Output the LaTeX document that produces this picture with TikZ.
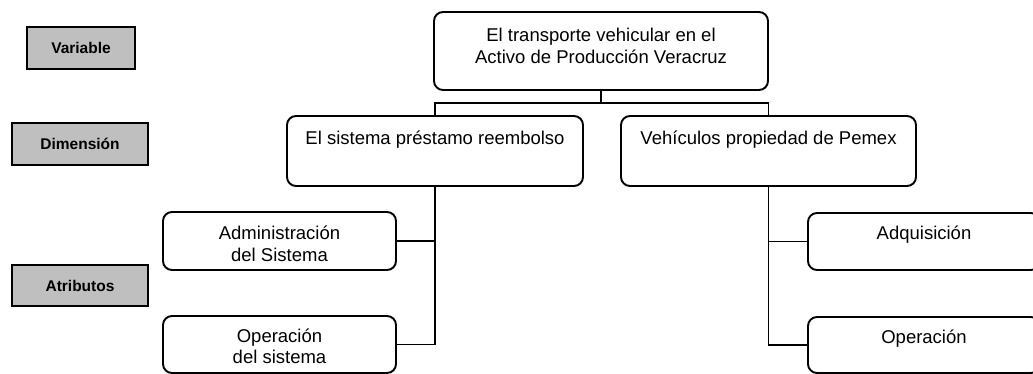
\documentclass[tikz,border=0pt]{standalone}
\usepackage{fontspec}
\setmainfont{Liberation Sans}
\begin{document}
\begin{tikzpicture}[x=1pt,y=-1pt,
  box/.style={draw, line width=1.9pt, rounded corners=9pt, inner sep=0pt,
    font=\fontsize{18.5}{21.5}\selectfont},
  lbl/.style={draw, line width=1.9pt, fill=gray!50, inner sep=0pt,
    font=\bfseries\fontsize{15.5}{18}\selectfont},
  conn/.style={line width=1.9pt, line join=miter}]
\clip (0,0) rectangle (1033,374);
\fill[white] (0,0) rectangle (1033,374);
% side labels
\node[lbl, minimum width=108pt, minimum height=42pt] (var) at (81,48) {Variable};
\node[lbl, minimum width=136pt, minimum height=42pt] (dim) at (80,144) {Dimensión};
\node[lbl, minimum width=136pt, minimum height=41pt] (atr) at (80,285.5) {Atributos};
% boxes
\node[box, minimum width=334pt, text height=30pt, text depth=48pt] (top) at (601,51)
  {\begin{tabular}[t]{@{}c@{}}El transporte vehicular en el\\Activo de Producción Veracruz\end{tabular}};
\node[box, minimum width=296pt, text height=29pt, text depth=41pt] (dimL) at (435,151)
  {El sistema préstamo reembolso};
\node[box, minimum width=295pt, text height=29pt, text depth=41pt] (dimR) at (768.5,151)
  {Vehículos propiedad de Pemex};
\node[box, minimum width=233pt, text height=28pt, text depth=30pt] (attrL1) at (279.5,241)
  {\begin{tabular}[t]{@{}c@{}}Administración\\del Sistema\end{tabular}};
\node[box, minimum width=233pt, text height=26pt, text depth=31pt] (attrL2) at (279.5,344.5)
  {\begin{tabular}[t]{@{}c@{}}Operación\\del sistema\end{tabular}};
\node[box, minimum width=232pt, text height=26pt, text depth=31pt] (attrR1) at (924,241.5)
  {Adquisición};
\node[box, minimum width=232pt, text height=26pt, text depth=30pt] (attrR2) at (924,345)
  {Operación};
% connectors
\coordinate (j) at (601,103);
\draw[conn] (top.south) -- (j);
\draw[conn] (dimL.north) |- (j) -| (dimR.north);
\draw[conn] (dimL.south) |- (attrL2.east);
\draw[conn] (attrL1.east) -| (dimL.south);
\draw[conn] (dimR.south) |- (attrR2.west);
\draw[conn] (attrR1.west) -| (dimR.south);
\end{tikzpicture}
\end{document}
